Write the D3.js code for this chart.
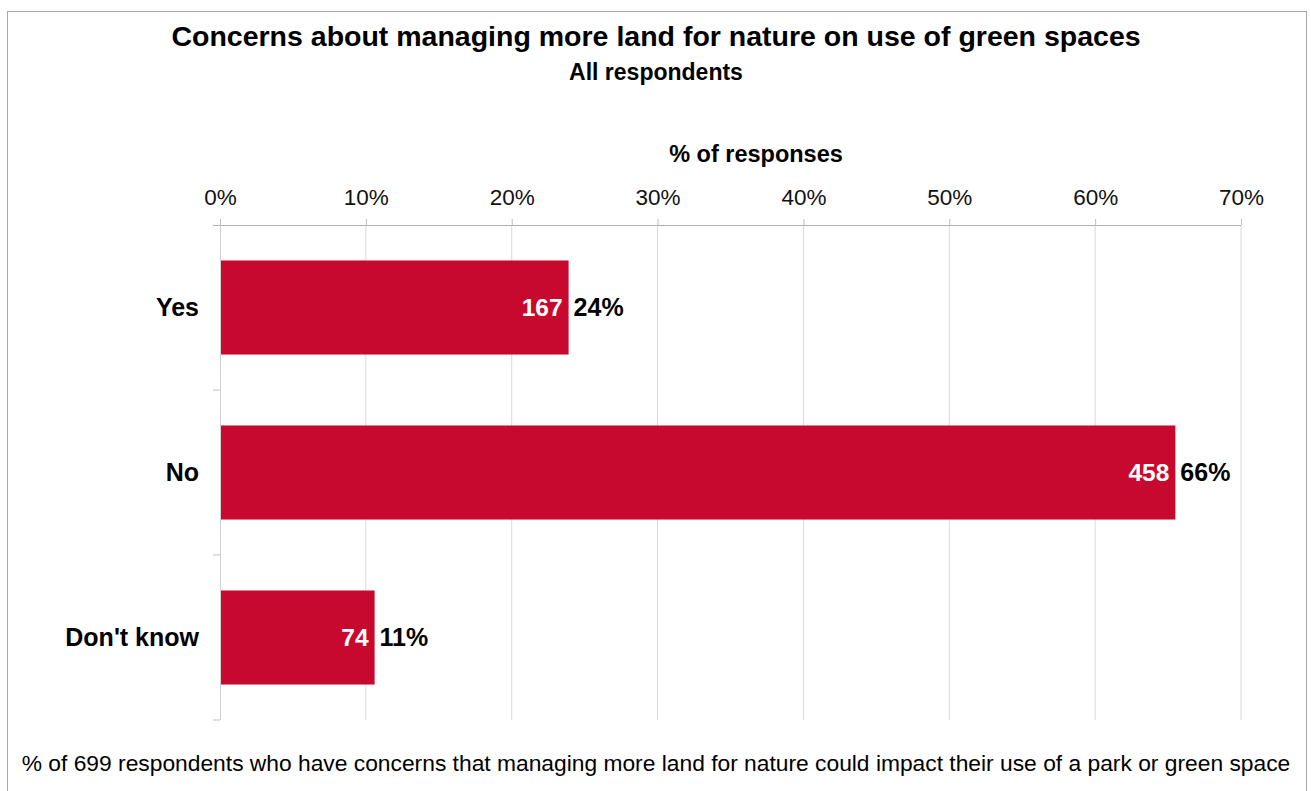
<!DOCTYPE html>
<html>
<head>
<meta charset="utf-8">
<script src="https://cdn.jsdelivr.net/npm/d3@7"></script>
<style>
  body { margin: 0; background: #fff; }
  svg { display: block; font-family: "Liberation Sans", Arial, sans-serif; }
</style>
</head>
<body>
<svg id="chart" width="1311" height="791"></svg>
<script>
// Data
const categories = ['Yes', 'No', "Don't know"];
const counts = [167, 458, 74];
const shares = [23.9, 65.5, 10.6];        // % of respondents
const xTicks = [0, 10, 20, 30, 40, 50, 60, 70];
const totalRespondents = 699;

const W = 1311, H = 791;
const margin = { top: 225, right: 70, bottom: 71, left: 220 };
const innerW = W - margin.left - margin.right;
const innerH = H - margin.top - margin.bottom;

const svg = d3.select('#chart');

// outer frame
svg.append('rect')
  .attr('x', 7.5).attr('y', 11.5)
  .attr('width', 1299).attr('height', 800)
  .attr('fill', 'none').attr('stroke', '#a8a8a8');

svg.append('text')
  .attr('x', 656).attr('y', 46)
  .attr('text-anchor', 'middle')
  .attr('font-weight', 'bold').attr('font-size', 28.5)
  .text('Concerns about managing more land for nature on use of green spaces');

svg.append('text')
  .attr('x', 656).attr('y', 80)
  .attr('text-anchor', 'middle')
  .attr('font-weight', 'bold').attr('font-size', 23)
  .text('All respondents');

const g = svg.append('g').attr('transform', `translate(${margin.left},${margin.top})`);

const x = d3.scaleLinear().domain([0, 70]).range([0, innerW]);
const y = d3.scaleBand().domain(categories).range([0, innerH]).paddingInner(0.43).paddingOuter(0.215);

// vertical gridlines
g.selectAll('line.grid')
  .data(xTicks.slice(1))
  .join('line')
  .attr('class', 'grid')
  .attr('x1', (d) => x(d)).attr('x2', (d) => x(d))
  .attr('y1', 0).attr('y2', innerH)
  .attr('stroke', '#d9d9d9');

// top axis
const xAxis = g.append('g')
  .call(d3.axisTop(x).tickValues(xTicks).tickFormat((d) => d + '%').tickSize(6).tickSizeOuter(0).tickPadding(14));
xAxis.select('.domain').remove();
xAxis.selectAll('.tick line').attr('stroke', '#bfbfbf');
xAxis.selectAll('.tick text').attr('font-size', 22.5).attr('fill', '#111');
g.append('line')
  .attr('x1', -7).attr('x2', innerW)
  .attr('y1', 0.5).attr('y2', 0.5)
  .attr('stroke', '#b0b0b0');

// category boundaries on the left axis
const bounds = categories.map((c, i) => y.step() * (i + 1));
g.append('line')
  .attr('x1', 0.5).attr('x2', 0.5)
  .attr('y1', 0).attr('y2', innerH)
  .attr('stroke', '#d0d0d0');
g.selectAll('line.ytick')
  .data(bounds)
  .join('line')
  .attr('class', 'ytick')
  .attr('x1', -7).attr('x2', 0)
  .attr('y1', (d) => d).attr('y2', (d) => d)
  .attr('stroke', '#bfbfbf');

g.append('text')
  .attr('x', 536).attr('y', -63)
  .attr('text-anchor', 'middle')
  .attr('font-weight', 'bold').attr('font-size', 23.5)
  .text('% of responses');

const rows = categories.map((c, i) => ({ cat: c, count: counts[i], share: shares[i] }));

g.selectAll('rect.bar')
  .data(rows)
  .join('rect')
  .attr('class', 'bar')
  .attr('x', 1)
  .attr('y', (d) => y(d.cat))
  .attr('width', (d) => x(d.share) - 1)
  .attr('height', y.bandwidth())
  .attr('fill', '#c8092f');

g.selectAll('text.cat')
  .data(rows)
  .join('text')
  .attr('class', 'cat')
  .attr('x', -21)
  .attr('y', (d) => y(d.cat) + y.bandwidth() / 2)
  .attr('dy', '0.35em')
  .attr('text-anchor', 'end')
  .attr('font-weight', 'bold').attr('font-size', 25)
  .text((d) => d.cat);

g.selectAll('text.count')
  .data(rows)
  .join('text')
  .attr('class', 'count')
  .attr('x', (d) => x(d.share) - 6)
  .attr('y', (d) => y(d.cat) + y.bandwidth() / 2)
  .attr('dy', '0.35em')
  .attr('text-anchor', 'end')
  .attr('fill', '#fff')
  .attr('font-weight', 'bold').attr('font-size', 24.5)
  .text((d) => d.count);

g.selectAll('text.share')
  .data(rows)
  .join('text')
  .attr('class', 'share')
  .attr('x', (d) => x(d.share) + 5)
  .attr('y', (d) => y(d.cat) + y.bandwidth() / 2)
  .attr('dy', '0.35em')
  .attr('fill', '#000')
  .attr('font-weight', 'bold').attr('font-size', 25)
  .text((d) => Math.round(d.share) + '%');

svg.append('text')
  .attr('x', 656).attr('y', 771)
  .attr('text-anchor', 'middle')
  .attr('font-size', 22.8)
  .text(`% of ${totalRespondents} respondents who have concerns that managing more land for nature could impact their use of a park or green space`);
</script>
</body>
</html>
